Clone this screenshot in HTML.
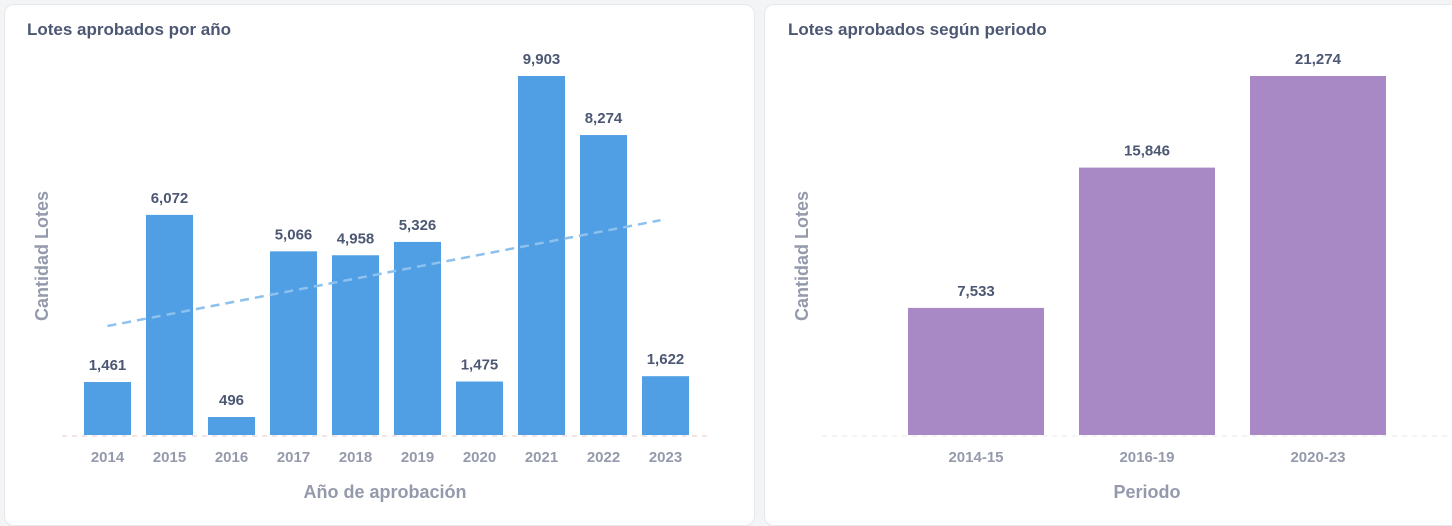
<!DOCTYPE html>
<html><head><meta charset="utf-8"><style>
body{margin:0;width:1452px;height:517px;background:#f3f4f6;font-family:"Liberation Sans",sans-serif;overflow:hidden;position:relative}
.card{position:absolute;background:#fff;border-radius:10px;border:1px solid #e6e8eb}
.t{position:absolute;font-size:17px;color:#4c5773;font-weight:bold;top:20px}
svg{position:absolute;left:0;top:0}
</style></head><body>
<div class="card" style="left:4px;top:4px;width:749px;height:520px"></div>
<div class="card" style="left:764px;top:4px;width:700px;height:520px"></div>
<div class="t" style="left:27px">Lotes aprobados por año</div>
<div class="t" style="left:788px">Lotes aprobados según periodo</div>
<svg id="s" width="1452" height="517"></svg>
<script>
const years=["2014","2015","2016","2017","2018","2019","2020","2021","2022","2023"];
const yearValues=[1461,6072,496,5066,4958,5326,1475,9903,8274,1622];
const periods=["2014-15","2016-19","2020-23"];
const periodValues=[7533,15846,21274];
const NS="http://www.w3.org/2000/svg",s=document.getElementById('s');
function el(t,a,txt){const e=document.createElementNS(NS,t);for(const k in a)e.setAttribute(k,a[k]);if(txt!==undefined)e.textContent=txt;s.appendChild(e);return e;}
const base=435,topY=76;
function fmt(v){return v.toLocaleString('en-US');}
const maxY=Math.max(...yearValues),yS=v=>base-(v/maxY)*(base-topY);
const xL=i=>84+i*62,bw=47;
let e=el('line',{x1:62,x2:712,y1:base+1,y2:base+1,stroke:'#e6c9c9','stroke-dasharray':'5,5'});


yearValues.forEach((v,i)=>{
 let r=el('rect',{x:xL(i),y:yS(v),width:bw,height:base-yS(v),fill:'#509ee3'});
 
 
 let l=el('text',{x:xL(i)+bw/2,y:yS(v)-12,'text-anchor':'middle','font-size':15,'font-weight':'bold',fill:'#4c5773'},fmt(v));
 
 
 let t=el('text',{x:xL(i)+bw/2,y:462,'text-anchor':'middle','font-size':15,'font-weight':'bold',fill:'#949aab'},years[i]);
 
 
});
const n=yearValues.length,mx=(n-1)/2,my=yearValues.reduce((a,b)=>a+b)/n;
let num=0,den=0;yearValues.forEach((v,i)=>{num+=(i-mx)*(v-my);den+=(i-mx)**2});
const sl=num/den,ic=my-sl*mx;
e=el('line',{x1:xL(0)+bw/2,y1:yS(ic),x2:xL(n-1)+bw/2-5,y2:yS(ic+sl*(n-1)),stroke:'#8dc1ee','stroke-width':2.5,'stroke-dasharray':'9,6'});


e=el('text',{x:385,y:498,'text-anchor':'middle','font-size':18,'font-weight':'bold',fill:'#949aab'},'Año de aprobación');


e=el('text',{x:48,y:256,'text-anchor':'middle','font-size':18,'font-weight':'bold',fill:'#949aab',transform:'rotate(-90 48 256)'},'Cantidad Lotes');


const maxP=Math.max(...periodValues),pS=v=>base-(v/maxP)*(base-topY);
const xP=i=>908+i*171,pw=136;
e=el('line',{x1:822,x2:1452,y1:base+1,y2:base+1,stroke:'#e6e8eb','stroke-dasharray':'5,5'});


periodValues.forEach((v,i)=>{
 let r=el('rect',{x:xP(i),y:pS(v),width:pw,height:base-pS(v),fill:'#a989c5'});
 
 
 let l=el('text',{x:xP(i)+pw/2,y:pS(v)-12,'text-anchor':'middle','font-size':15,'font-weight':'bold',fill:'#4c5773'},fmt(v));
 
 
 let t=el('text',{x:xP(i)+pw/2,y:462,'text-anchor':'middle','font-size':15,'font-weight':'bold',fill:'#949aab'},periods[i]);
 
 
});
e=el('text',{x:1147,y:498,'text-anchor':'middle','font-size':18,'font-weight':'bold',fill:'#949aab'},'Periodo');


e=el('text',{x:808,y:256,'text-anchor':'middle','font-size':18,'font-weight':'bold',fill:'#949aab',transform:'rotate(-90 808 256)'},'Cantidad Lotes');


</script>
</body></html>
